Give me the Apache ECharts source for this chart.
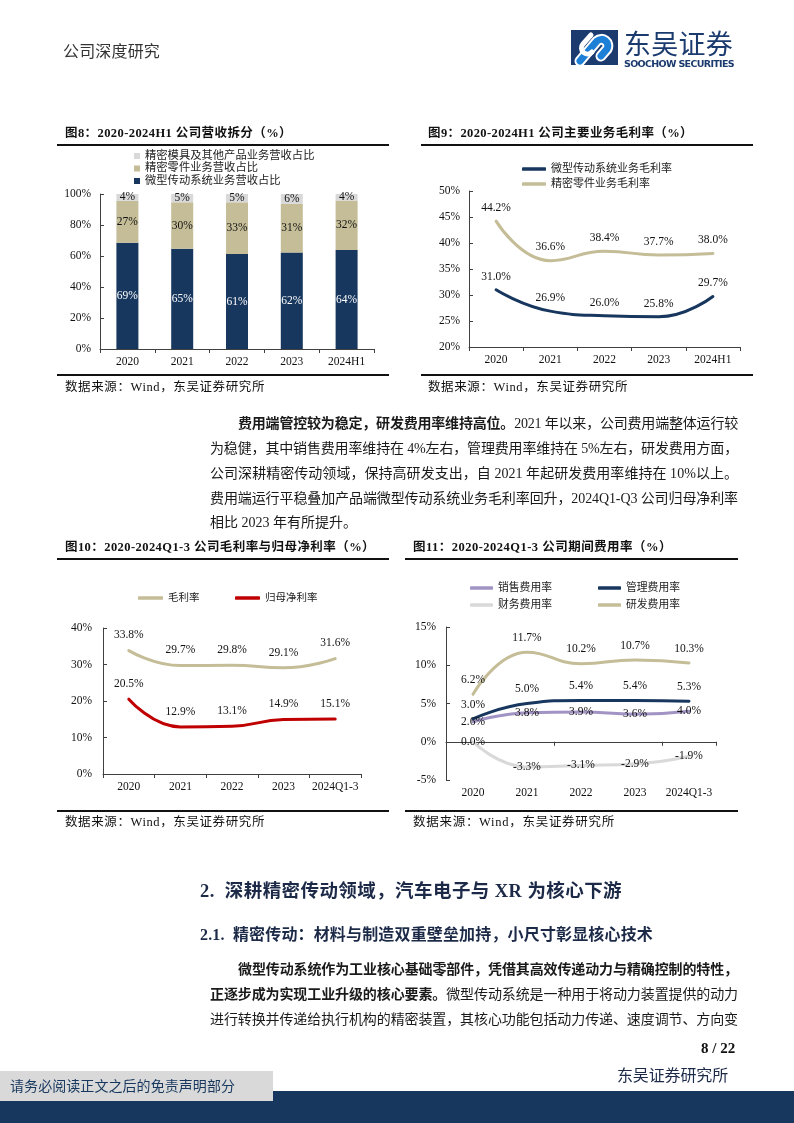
<!DOCTYPE html>
<html><head><meta charset="utf-8">
<script src="https://cdn.jsdelivr.net/npm/echarts@6/dist/echarts.min.js"></script>
<style>
html,body{margin:0;padding:0;background:#fff;}
#page{position:relative;width:794px;height:1123px;overflow:hidden;background:#fff;}
#chart{position:absolute;left:0;top:0;width:794px;height:1123px;z-index:1;}
.t{position:absolute;white-space:nowrap;line-height:1;font-family:'Liberation Serif','Noto Sans CJK SC',serif;color:#111;z-index:2;display:inline-block;}
.rule{position:absolute;height:2px;background:#111;z-index:2;}
.ttl{font-weight:bold;font-size:12.5px;color:#111;}
.src{font-size:12.5px;color:#111;}
.p{font-size:14px;color:#1a1a1a;}
</style></head>
<body>
<div id="page">
  <!-- header -->
  <div class="t" style="left:63px;top:44px;font-size:16px;color:#333;" data-w="97">公司深度研究</div>
  <svg style="position:absolute;left:571px;top:30px;z-index:2" width="47" height="35" viewBox="0 0 47 35">
    <rect width="47" height="35" fill="#1B3A6E"/>
    <path d="M9 31 L26 11 A6.5 6.5 0 0 1 36 19 L30 26" stroke="#ffffff" stroke-width="11" fill="none" stroke-linecap="round"/>
    <path d="M9 31 L26 11 A6.5 6.5 0 0 1 36 19 L30 26" stroke="#1E7FD6" stroke-width="7" fill="none" stroke-linecap="round"/>
    <path d="M20 5 L12 14 A6 6 0 0 0 21 22" stroke="#ffffff" stroke-width="5" fill="none" stroke-linecap="round"/>
  </svg>
  <div class="t" style="left:624px;top:29px;font-size:27px;color:#1B3A6E;font-family:'Noto Sans CJK SC',sans-serif;" data-w="109">东吴证券</div>
  <div class="t" style="left:624px;top:59px;font-size:9.5px;font-weight:bold;color:#1B3A6E;font-family:'DejaVu Sans','Noto Sans',sans-serif;" data-w="110">SOOCHOW SECURITIES</div>

  <!-- chart titles -->
  <div class="t ttl" style="left:65px;top:127px;" data-w="227">图8：2020-2024H1 公司营收拆分（%）</div>
  <div class="rule" style="left:57px;top:144px;width:332px;"></div>
  <div class="rule" style="left:57px;top:374px;width:332px;"></div>
  <div class="t src" style="left:65px;top:381px;" data-w="200">数据来源：Wind，东吴证券研究所</div>

  <div class="t ttl" style="left:428px;top:127px;" data-w="265">图9：2020-2024H1 公司主要业务毛利率（%）</div>
  <div class="rule" style="left:421px;top:144px;width:332px;"></div>
  <div class="rule" style="left:421px;top:374px;width:332px;"></div>
  <div class="t src" style="left:428px;top:381px;" data-w="200">数据来源：Wind，东吴证券研究所</div>

  <!-- paragraph 1 -->
  <div class="t p" style="left:238px;top:417px;" data-w="500"><b>费用端管控较为稳定，研发费用率维持高位。</b>2021 年以来，公司费用端整体运行较</div>
  <div class="t p" style="left:210px;top:442px;" data-w="528">为稳健，其中销售费用率维持在 4%左右，管理费用率维持在 5%左右，研发费用方面，</div>
  <div class="t p" style="left:210px;top:467px;" data-w="528">公司深耕精密传动领域，保持高研发支出，自 2021 年起研发费用率维持在 10%以上。</div>
  <div class="t p" style="left:210px;top:492px;" data-w="528">费用端运行平稳叠加产品端微型传动系统业务毛利率回升，2024Q1-Q3 公司归母净利率</div>
  <div class="t p" style="left:210px;top:516px;">相比 2023 年有所提升。</div>

  <div class="t ttl" style="left:65px;top:541px;" data-w="310">图10：2020-2024Q1-3 公司毛利率与归母净利率（%）</div>
  <div class="rule" style="left:57px;top:558px;width:332px;"></div>
  <div class="rule" style="left:57px;top:810px;width:332px;"></div>
  <div class="t src" style="left:65px;top:816px;" data-w="200">数据来源：Wind，东吴证券研究所</div>

  <div class="t ttl" style="left:413px;top:541px;" data-w="259">图11：2020-2024Q1-3 公司期间费用率（%）</div>
  <div class="rule" style="left:405px;top:558px;width:333px;"></div>
  <div class="rule" style="left:405px;top:810px;width:333px;"></div>
  <div class="t src" style="left:413px;top:816px;" data-w="202">数据来源：Wind，东吴证券研究所</div>

  <!-- section headings -->
  <div class="t" style="left:200px;top:882px;font-size:18.5px;font-weight:bold;color:#1c2a48;" data-w="422">2.&nbsp;&nbsp;深耕精密传动领域，汽车电子与 XR 为核心下游</div>
  <div class="t" style="left:200px;top:927px;font-size:16px;font-weight:bold;color:#1c2a48;" data-w="453">2.1.&nbsp;&nbsp;精密传动：材料与制造双重壁垒加持，小尺寸彰显核心技术</div>

  <!-- paragraph 2 -->
  <div class="t p" style="left:238px;top:963px;font-weight:bold;" data-w="500">微型传动系统作为工业核心基础零部件，凭借其高效传递动力与精确控制的特性，</div>
  <div class="t p" style="left:210px;top:988px;" data-w="528"><b>正逐步成为实现工业升级的核心要素。</b>微型传动系统是一种用于将动力装置提供的动力</div>
  <div class="t p" style="left:210px;top:1013px;" data-w="528">进行转换并传递给执行机构的精密装置，其核心功能包括动力传递、速度调节、方向变</div>

  <!-- footer -->
  <div class="t" style="left:701px;top:1041px;font-size:15px;font-weight:bold;color:#111;">8 / 22</div>
  <div style="position:absolute;left:0;top:1091px;width:794px;height:32px;background:#17375E;z-index:2;"></div>
  <div style="position:absolute;left:0;top:1071px;width:273px;height:30px;background:#D9D9D9;z-index:3;"></div>
  <div class="t" style="left:10px;top:1080px;font-size:14px;color:#17375E;z-index:4;" data-w="225">请务必阅读正文之后的免责声明部分</div>
  <div class="t" style="left:617px;top:1068px;font-size:16px;color:#1c2a48;" data-w="111">东吴证券研究所</div>

  <div id="chart"></div>
</div>
<script>
// ---------- data ----------
const yearsH1 = ['2020', '2021', '2022', '2023', '2024H1'];
const yearsQ3 = ['2020', '2021', '2022', '2023', '2024Q1-3'];
// 图8 营收拆分 (%)
const motionShare = [68.6, 64.6, 61.3, 62.2, 63.8];
const partsShare = [27.0, 30.0, 33.3, 31.4, 32.0];
const moldShare = [4.4, 5.4, 5.4, 6.4, 4.2];
// 图9 主要业务毛利率 (%)
const motionGM = [31.0, 26.9, 26.0, 25.8, 29.7];
const partsGM = [44.2, 36.6, 38.4, 37.7, 38.0];
// 图10 毛利率与归母净利率 (%)
const grossMargin = [33.8, 29.7, 29.8, 29.1, 31.6];
const netMargin = [20.5, 12.9, 13.1, 14.9, 15.1];
// 图11 期间费用率 (%)
const sellRate = [2.6, 3.8, 3.9, 3.6, 4.0];
const adminRate = [3.0, 5.0, 5.4, 5.4, 5.3];
const finRate = [0.0, -3.3, -3.1, -2.9, -1.9];
const rdRate = [6.2, 11.7, 10.2, 10.7, 10.3];
// axis ranges
const y8 = {min: 0, max: 100, interval: 20};
const y9 = {min: 20, max: 50, interval: 5};
const y10 = {min: 0, max: 40, interval: 10};
const y11 = {min: -5, max: 15, interval: 5};

// ---------- style ----------
const FONT = "'Liberation Serif','Noto Sans CJK SC',serif";
const FS = 11.5;
const AX = '#404040';
const NAVY = '#17375E', TAN = '#C4BD97', GRAY = '#D9D9D9', RED = '#C00000', PURPLE = '#A194C4';
const XLABEL = {show: true, interval: 0, color: '#111', fontFamily: FONT, fontSize: FS, margin: 7};

function xCat(grid, data, extra) {
  return Object.assign({
    type: 'category', gridIndex: grid, data: data,
    axisLine: {show: true, onZero: false, lineStyle: {color: AX, width: 1}},
    axisTick: {show: true, length: 4, lineStyle: {color: AX}},
    axisLabel: XLABEL,
    splitLine: {show: false}
  }, extra || {});
}
function yVal(grid, r, margin) {
  return {
    type: 'value', gridIndex: grid, min: r.min, max: r.max, interval: r.interval,
    axisLine: {show: true, lineStyle: {color: AX, width: 1}},
    axisTick: {show: true, inside: true, length: 4, lineStyle: {color: AX}},
    axisLabel: {color: '#111', fontFamily: FONT, fontSize: FS, margin: margin, formatter: '{value}%'},
    splitLine: {show: false}
  };
}
function leg(name, left, top, icon, w, h, fs) {
  return {
    data: [name], left: left, top: top, padding: 0, orient: 'horizontal',
    icon: icon, itemWidth: w, itemHeight: h, selectedMode: false,
    textStyle: {color: '#222', fontFamily: FONT, fontSize: fs || 11, lineHeight: 14}
  };
}
const pct1 = p => p.value.toFixed(1) + '%';
const pct0 = p => Math.round(p.value) + '%';
function bar(name, data, color, labelColor) {
  return {
    name: name, type: 'bar', stack: 'rev', xAxisIndex: 0, yAxisIndex: 0, data: data,
    barWidth: 22, itemStyle: {color: color},
    label: {show: true, position: 'inside', color: labelColor, fontFamily: FONT, fontSize: FS, formatter: pct0}
  };
}
function line(name, data, color, xi, yi, labelPos, dist) {
  return {
    name: name, type: 'line', xAxisIndex: xi, yAxisIndex: yi, data: data,
    smooth: true, symbol: 'circle', symbolSize: 1, showSymbol: true,
    lineStyle: {color: color, width: 3, cap: 'round'}, itemStyle: {color: color},
    label: {show: true, position: labelPos, distance: dist, color: '#111', fontFamily: FONT, fontSize: FS, formatter: pct1},
    emphasis: {disabled: true},
    z: 3
  };
}

const option = {
  animation: false,
  grid: [
    {left: 100, top: 194, width: 274, height: 155, outerBoundsMode: 'none'},
    {left: 469, top: 191, width: 271, height: 156, outerBoundsMode: 'none'},
    {left: 103, top: 628, width: 258, height: 146, outerBoundsMode: 'none'},
    {left: 446, top: 627, width: 270, height: 153, outerBoundsMode: 'none'}
  ],
  xAxis: [
    xCat(0, yearsH1),
    xCat(1, yearsH1),
    xCat(2, yearsQ3),
    xCat(3, yearsQ3, {position: 'bottom', axisLine: {show: false, onZero: false}, axisTick: {show: false}}),
    xCat(3, yearsQ3, {position: 'top', axisLine: {show: true, onZero: true, lineStyle: {color: AX, width: 1}},
      axisTick: {show: true, inside: true, length: 4, lineStyle: {color: AX}}, axisLabel: {show: false}})
  ],
  yAxis: [yVal(0, y8, 9), yVal(1, y9, 9), yVal(2, y10, 11), yVal(3, y11, 10)],
  legend: [
    leg('精密模具及其他产品业务营收占比', 134, 149, 'rect', 6, 6, 11.3),
    leg('精密零件业务营收占比', 134, 161.5, 'rect', 6, 6, 11.3),
    leg('微型传动系统业务营收占比', 134, 174, 'rect', 6, 6, 11.3),
    leg('微型传动系统业务毛利率', 522, 162, 'roundRect', 24, 3.5, 11),
    leg('精密零件业务毛利率', 522, 177, 'roundRect', 24, 3.5, 11),
    leg('毛利率', 138, 591, 'roundRect', 25, 3.5, 10.5),
    leg('归母净利率', 235, 591, 'roundRect', 25, 3.5, 10.5),
    leg('销售费用率', 470, 581, 'roundRect', 23, 3.5, 10.8),
    leg('管理费用率', 598, 581, 'roundRect', 23, 3.5, 10.8),
    leg('财务费用率', 470, 598, 'roundRect', 23, 3.5, 10.8),
    leg('研发费用率', 598, 598, 'roundRect', 23, 3.5, 10.8)
  ],
  series: [
    bar('微型传动系统业务营收占比', motionShare, NAVY, '#ffffff'),
    bar('精密零件业务营收占比', partsShare, TAN, '#111'),
    bar('精密模具及其他产品业务营收占比', moldShare, GRAY, '#111'),
    line('微型传动系统业务毛利率', motionGM, NAVY, 1, 1, 'top', 7),
    line('精密零件业务毛利率', partsGM, TAN, 1, 1, 'top', 7),
    line('毛利率', grossMargin, TAN, 2, 2, 'top', 9),
    line('归母净利率', netMargin, RED, 2, 2, 'top', 9),
    line('销售费用率', sellRate, PURPLE, 4, 3, 'inside', 0),
    line('管理费用率', adminRate, NAVY, 4, 3, 'top', 8),
    line('财务费用率', finRate, GRAY, 4, 3, 'inside', 0),
    line('研发费用率', rdRate, TAN, 4, 3, 'top', 8)
  ]
};

function fitText() {
  document.querySelectorAll('[data-w]').forEach(el => {
    const w = +el.dataset.w;
    el.style.letterSpacing = '0px';
    const nat = el.getBoundingClientRect().width;
    const n = Array.from(el.textContent).length;
    if (n > 1) el.style.letterSpacing = ((w - nat) / n).toFixed(3) + 'px';
  });
}
function draw() {
  fitText();
  const chart = echarts.init(document.getElementById('chart'), null, {renderer: 'canvas'});
  chart.setOption(option);
}
if (document.fonts && document.fonts.ready) { document.fonts.ready.then(draw); } else { draw(); }
</script>
</body></html>
